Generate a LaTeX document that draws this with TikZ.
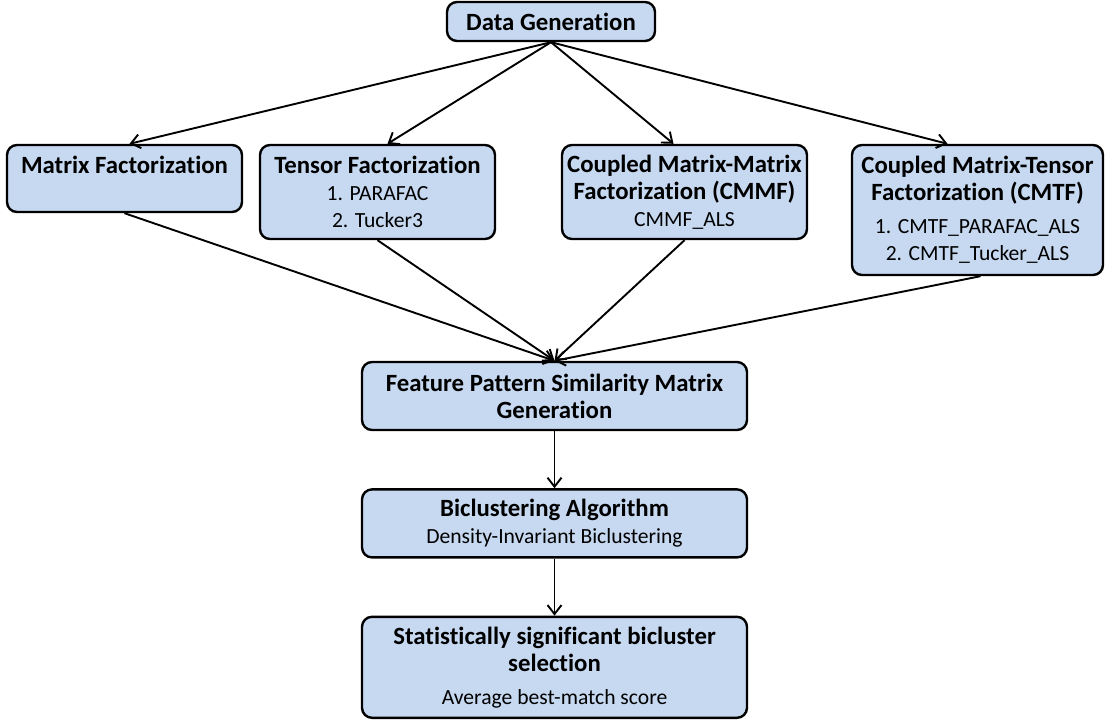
\documentclass[tikz,border=0pt]{standalone}
\usepackage{fontspec}
\setmainfont{Carlito}[Ligatures=NoCommon]
\usepackage{xcolor}
\usetikzlibrary{arrows.meta, positioning}

\definecolor{boxblue}{HTML}{C6D9F1}
\newcommand{\subtxt}[1]{{\mdseries\fontsize{10.8}{13}\selectfont #1}}

\begin{document}
\begin{tikzpicture}[
        x=0.5pt, y=-0.5pt,
        node distance=28.5pt,
        box/.style={rectangle, draw, line width=1.2pt, rounded corners=5pt, fill=boxblue,
            inner sep=1pt, align=center, font=\bfseries\fontsize{12.4}{13.5}\selectfont},
        arrow/.style={-{Straight Barb[length=4.5pt,width=7pt]}, line width=0.95pt}
    ]
        \useasboundingbox (0,0) rectangle (1107,719);

        % Nodes
        \node[box, minimum width=104pt, minimum height=19.5pt] (gen) at (551,21.5) {Data Generation};
        \node[box, minimum width=117.5pt, minimum height=33.5pt] (mf) at (124.5,178.5)
            {Matrix Factorization\\\subtxt{\phantom{1.}}};
        \node[box, minimum width=117.5pt, minimum height=47pt] (tf) at (377.5,192)
            {Tensor Factorization\\\subtxt{1. PARAFAC}\\\subtxt{2. Tucker3}};
        \node[box, minimum width=122.5pt, minimum height=47pt] (cmmf) at (684.5,192)
            {Coupled Matrix-Matrix\\Factorization (CMMF)\\\subtxt{CMMF\_ALS}};
        \node[box, minimum width=125.5pt, minimum height=65pt] (cmtf) at (977.5,210)
            {Coupled Matrix-Tensor\\Factorization (CMTF)\\[3pt]\subtxt{1. CMTF\_PARAFAC\_ALS}\\\subtxt{2. CMTF\_Tucker\_ALS}};
        \node[box, minimum width=192.5pt, minimum height=34pt] (fpsm) at (554.5,396)
            {Feature Pattern Similarity Matrix\\Generation};
        \node[box, minimum width=192.5pt, minimum height=34pt, below=of fpsm] (bic)
            {Biclustering Algorithm\\\subtxt{Density-Invariant Biclustering}};
        \node[box, minimum width=192.5pt, minimum height=50.5pt, below=of bic] (sel)
            {Statistically significant bicluster\\selection\\[3pt]\subtxt{Average best-match score}};

        % Arrows
        \draw[arrow] (gen.south) -- ([xshift=2.5pt]mf.north);
        \draw[arrow] (gen.south) -- ([xshift=5pt]tf.north);
        \draw[arrow] (gen.south) -- ([xshift=-5.5pt]cmmf.north);
        \draw[arrow] (gen.south) -- ([xshift=-15pt]cmtf.north);
        \draw[arrow] (mf.south) -- (fpsm.north);
        \draw[arrow] (tf.south) -- (fpsm.north);
        \draw[arrow] (cmmf.south) -- (fpsm.north);
        \draw[arrow] ([xshift=1.5pt]cmtf.south) -- (fpsm.north);
        \draw[arrow] (fpsm) -- (bic);
        \draw[arrow] (bic) -- (sel);
    \end{tikzpicture}
\end{document}
